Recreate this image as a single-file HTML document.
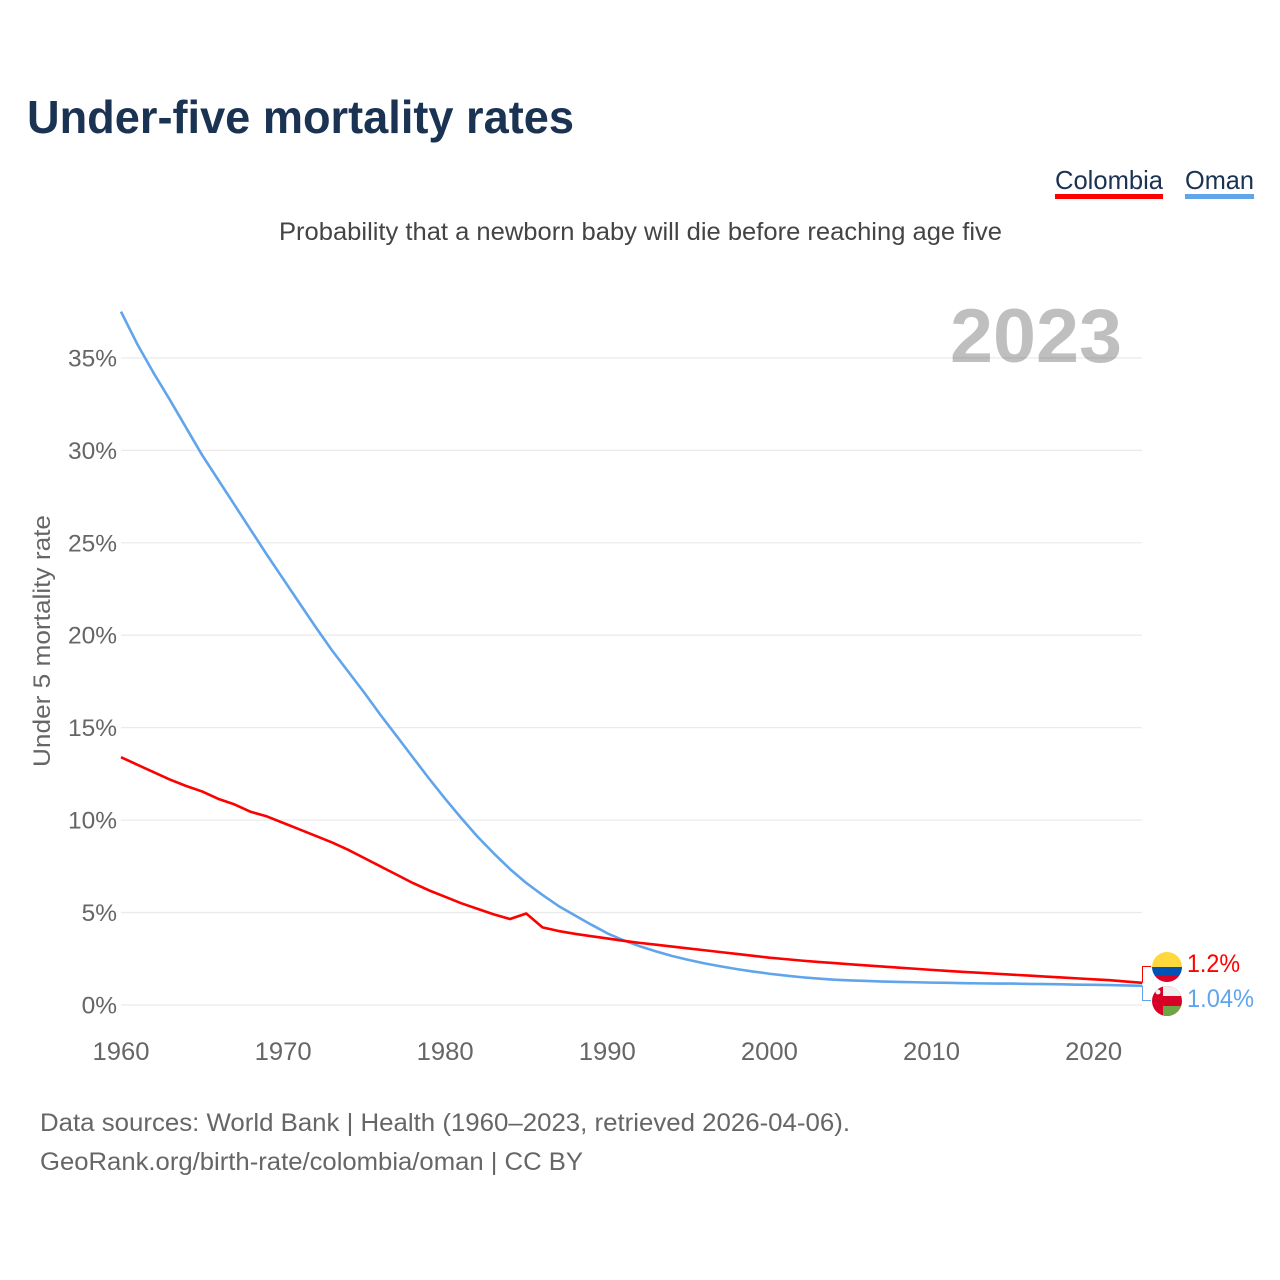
<!DOCTYPE html>
<html lang="en">
<head>
<meta charset="utf-8">
<title>Under-five mortality rates</title>
<style>
html,body{margin:0;padding:0;background:#fff;}
svg{display:block;font-family:"Liberation Sans",sans-serif;}
</style>
</head>
<body>
<svg id="chart" xmlns="http://www.w3.org/2000/svg" width="1280" height="1280" viewBox="0 0 1280 1280">
  <text x="27" y="133" font-size="46" font-weight="700" fill="#1a3353" textLength="547" lengthAdjust="spacingAndGlyphs">Under-five mortality rates</text>
  <g>
    <text x="1055" y="189" font-size="26" fill="#1a3353" textLength="108" lengthAdjust="spacingAndGlyphs">Colombia</text>
    <rect x="1055" y="194" width="108" height="5" fill="#ff0000"/>
  </g>
  <g>
    <text x="1185" y="189" font-size="26" fill="#1a3353" textLength="69" lengthAdjust="spacingAndGlyphs">Oman</text>
    <rect x="1185" y="194" width="69" height="5" fill="#60a5ec"/>
  </g>
  <text x="279" y="240" font-size="25" fill="#444" textLength="723" lengthAdjust="spacingAndGlyphs">Probability that a newborn baby will die before reaching age five</text>
  <text transform="translate(50,767) rotate(-90)" font-size="24.5" fill="#666" textLength="252" lengthAdjust="spacingAndGlyphs">Under 5 mortality rate</text>
  <text x="950" y="362" font-size="76" font-weight="700" fill="#bfbfbf" textLength="172" lengthAdjust="spacingAndGlyphs">2023</text>
  <g id="grid"></g>
  <g id="yticks"></g>
  <g id="xticks"></g>
  <g id="series"></g>
  <g id="ends"></g>
  <defs>
    <clipPath id="clip-co"><circle cx="1167" cy="967" r="15"/></clipPath>
    <clipPath id="clip-om"><circle cx="1167" cy="1001" r="15"/></clipPath>
  </defs>
  <g clip-path="url(#clip-co)">
    <rect x="1152" y="952" width="30" height="15.5" fill="#ffd83d"/>
    <rect x="1152" y="967" width="30" height="8" fill="#0052b4"/>
    <rect x="1152" y="975" width="30" height="8" fill="#d80027"/>
  </g>
  <g clip-path="url(#clip-om)">
    <rect x="1152" y="986" width="30" height="30" fill="#d80027"/>
    <rect x="1163" y="986" width="19" height="10" fill="#eeeeee"/>
    <rect x="1163" y="1006" width="19" height="10" fill="#6da544"/>
    <circle cx="1158" cy="992" r="2.5" fill="#eeeeee"/>
  </g>
  <text id="label-co" x="1187" y="972" font-size="25" fill="#ff0000" textLength="53" lengthAdjust="spacingAndGlyphs"></text>
  <text id="label-om" x="1187" y="1007" font-size="25" fill="#60a5ec" textLength="67" lengthAdjust="spacingAndGlyphs"></text>
  <text x="40" y="1131" font-size="25" fill="#666" textLength="810" lengthAdjust="spacingAndGlyphs">Data sources: World Bank | Health (1960–2023, retrieved 2026-04-06).</text>
  <text x="40" y="1170" font-size="25" fill="#666" textLength="543" lengthAdjust="spacingAndGlyphs">GeoRank.org/birth-rate/colombia/oman | CC BY</text>
</svg>
<script>
var startYear = 1960;
var colombia = [
  13.4,13.0,12.6,12.2,11.85,11.55,11.15,10.85,10.45,10.2,
  9.85,9.5,9.15,8.8,8.4,7.95,7.5,7.05,6.6,6.2,
  5.85,5.5,5.2,4.9,4.65,4.95,4.2,4.0,3.85,3.72,
  3.6,3.47,3.36,3.26,3.16,3.06,2.96,2.86,2.76,2.66,
  2.56,2.48,2.4,2.33,2.27,2.2,2.14,2.08,2.02,1.96,
  1.9,1.84,1.79,1.74,1.69,1.64,1.59,1.54,1.49,1.44,
  1.39,1.34,1.27,1.2
];
var oman = [
  37.5,35.75,34.2,32.75,31.25,29.75,28.4,27.05,25.7,24.35,
  23.05,21.75,20.45,19.2,18.05,16.9,15.7,14.55,13.4,12.25,
  11.15,10.1,9.1,8.2,7.35,6.6,5.95,5.35,4.85,4.35,
  3.88,3.5,3.18,2.9,2.65,2.44,2.25,2.09,1.94,1.81,
  1.69,1.59,1.5,1.43,1.37,1.33,1.3,1.27,1.25,1.23,
  1.21,1.2,1.18,1.17,1.16,1.16,1.14,1.13,1.12,1.1,
  1.09,1.08,1.06,1.04
];
var yTicks = [0,5,10,15,20,25,30,35];
var xTicks = [1960,1970,1980,1990,2000,2010,2020];

var NS = 'http://www.w3.org/2000/svg';
function xScale(year){ return 121 + (year - 1960) * 16.21; }
function yScale(v){ return 1005 - v * 18.49; }
function make(tag, attrs, parent){
  var el = document.createElementNS(NS, tag);
  for (var k in attrs) el.setAttribute(k, attrs[k]);
  parent.appendChild(el);
  return el;
}
var grid = document.getElementById('grid');
var yG = document.getElementById('yticks');
var xG = document.getElementById('xticks');
yTicks.forEach(function(t){
  var line = make('line', {x1:121, x2:1142, y1:yScale(t), y2:yScale(t), stroke:'#000', 'stroke-opacity':0.08, 'stroke-width':1.3}, grid);
  
  
  var lab = make('text', {x:117, y:yScale(t)+8.5, 'text-anchor':'end', 'font-size':24.5, fill:'#666'}, yG);
  
  
  lab.textContent = t + '%';
});
xTicks.forEach(function(t){
  var lab = make('text', {x:xScale(t), y:1060, 'text-anchor':'middle', 'font-size':25, fill:'#666', textLength:57, lengthAdjust:'spacingAndGlyphs'}, xG);
  
  
  lab.textContent = t;
});
function linePath(values){
  return values.map(function(v, i){
    return (i ? 'L' : 'M') + xScale(startYear + i).toFixed(2) + ' ' + yScale(v).toFixed(2);
  }).join(' ');
}
var seriesG = document.getElementById('series');
var omanLine = make('path', {d:linePath(oman), fill:'none', stroke:'#60a5ec', 'stroke-width':2.6, 'stroke-linejoin':'round'}, seriesG);


var colombiaLine = make('path', {d:linePath(colombia), fill:'none', stroke:'#ff0000', 'stroke-width':2.6, 'stroke-linejoin':'round'}, seriesG);



var endsG = document.getElementById('ends');
var lastYear = startYear + colombia.length - 1;
var coEnd = yScale(colombia[colombia.length - 1]);
var omEnd = yScale(oman[oman.length - 1]);
var endX = Math.round(xScale(lastYear)) + 0.5;
var conCo = make('path', {d:'M' + endX + ' ' + coEnd + ' V966.5 H1151', fill:'none', stroke:'#ff0000', 'stroke-width':1}, endsG);


var conOm = make('path', {d:'M' + endX + ' ' + omEnd + ' V1000.5 H1151', fill:'none', stroke:'#60a5ec', 'stroke-width':1}, endsG);


document.getElementById('label-co').textContent = colombia[colombia.length - 1] + '%';
document.getElementById('label-om').textContent = oman[oman.length - 1] + '%';
</script>
</body>
</html>
